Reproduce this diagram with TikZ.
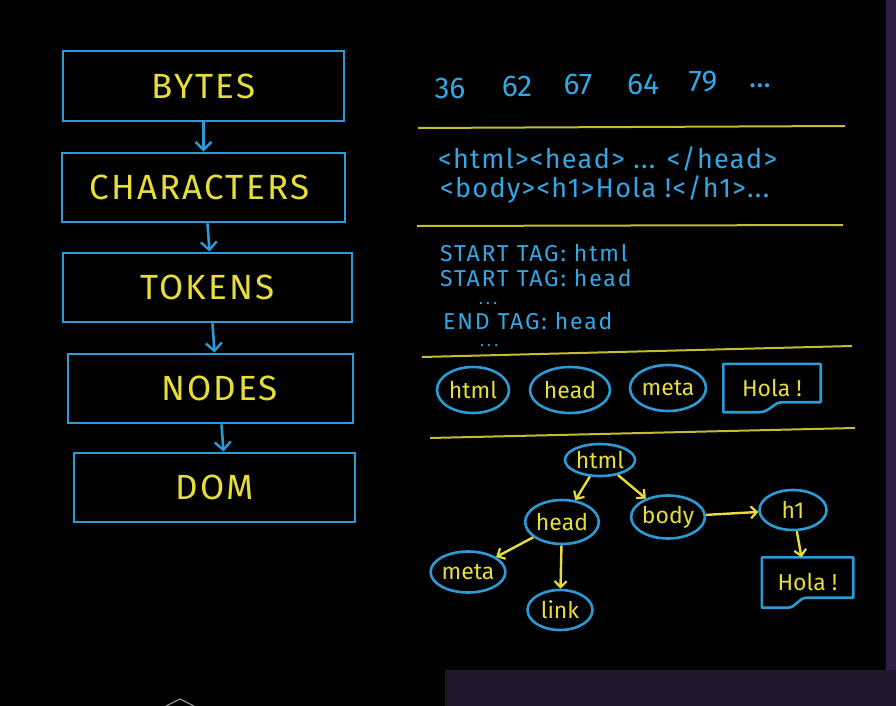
\documentclass[tikz,border=0pt]{standalone}
\usepackage{fontspec}
\setmainfont{Fira Sans}
\usetikzlibrary{shapes.geometric,arrows.meta}
\definecolor{chalkblue}{HTML}{2C9AD6}
\definecolor{textblue}{HTML}{35A6E4}
\definecolor{chalkyellow}{HTML}{E6DC3A}
\definecolor{purpright}{HTML}{2E1F46}
\definecolor{purpbottom}{HTML}{21162B}
\tikzset{
  stagebox/.style={draw=chalkblue, line width=2.8pt, rectangle, inner sep=0pt,
    text=chalkyellow, font=\fontsize{35}{38}\selectfont\addfontfeature{LetterSpace=6}},
  bluearrow/.style={draw=chalkblue, line width=2.6pt, -{Straight Barb[length=8pt,width=16pt,line width=2.4pt]}},
  yelarrow/.style={draw=chalkyellow, line width=2.4pt, -{Straight Barb[length=6pt,width=12pt,line width=2.2pt]}},
  sepline/.style={draw=chalkyellow, line width=2pt, opacity=0.85},
  numtxt/.style={text=textblue, font=\fontsize{30}{34}\selectfont, inner sep=0pt},
  codetxt/.style={text=textblue, font=\fontsize{27}{30}\selectfont\addfontfeature{LetterSpace=5}, inner sep=0pt, anchor=west},
  toktxt/.style={text=textblue, font=\fontsize{23}{26}\selectfont\addfontfeature{LetterSpace=8}, inner sep=0pt, anchor=west},
  dotstxt/.style={text=textblue, font=\fontsize{16}{18}\selectfont\addfontfeature{LetterSpace=20}, inner sep=0pt, anchor=west},
  treenode/.style={ellipse, draw=chalkblue, line width=2.6pt, inner sep=0pt,
    text=chalkyellow, font=\fontsize{23}{26}\selectfont},
  hollabox/.style={rectangle, inner sep=0pt, text=chalkyellow, font=\fontsize{23}{26}\selectfont},
}
\begin{document}
\begin{tikzpicture}[x=1pt,y=-1pt]
\useasboundingbox (0,0) rectangle (896,706);
\fill[black] (0,0) rectangle (896,706);
\fill[purpright] (886,0) rectangle (896,706);
\fill[purpbottom] (445,670) rectangle (896,706);
\coordinate (chevL) at (166,706);
\coordinate (chevT) at (180,699);
\coordinate (chevR) at (194,706);
\draw[gray!70, line width=1pt] (chevL) -- (chevT) -- (chevR);

% left pipeline
\node[stagebox, minimum width=281pt, minimum height=70pt] (bytes) at (203.5,86) {BYTES};
\node[stagebox, minimum width=283pt, minimum height=69pt] (chars) at (203.5,187.5) {\hspace*{-8pt}CHARACTERS};
\node[stagebox, minimum width=289pt, minimum height=69pt] (tokens) at (207.5,287.5) {TOKENS};
\node[stagebox, minimum width=285pt, minimum height=69pt] (nodes) at (210.5,388.5) {\hspace*{18pt}NODES};
\node[stagebox, minimum width=281pt, minimum height=69pt] (dom) at (214.5,487.5) {DOM};
\draw[bluearrow] (bytes.south) -- (chars.north);
\draw[bluearrow] ([xshift=4pt]chars.south) -- ([xshift=2pt]tokens.north);
\draw[bluearrow] ([xshift=5pt]tokens.south) -- ([xshift=4pt]nodes.north);
\draw[bluearrow] ([xshift=11pt]nodes.south) -- ([xshift=9pt]dom.north);

% bytes
\node[numtxt] (n1) at (450,88) {36};
\node[numtxt] (n2) at (517,86) {62};
\node[numtxt] (n3) at (578,84) {67};
\node[numtxt] (n4) at (643,84) {64};
\node[numtxt] (n5) at (703,82) {79};
\node[numtxt] (n6) at (760,86) {...};

\coordinate (s1a) at (418,128); \coordinate (s1b) at (845,126);
\draw[sepline] (s1a) -- (s1b);

\node[codetxt] (c1) at (438,159) {<html><head> ... </head>};
\node[codetxt] (c2) at (440,189) {<body><h1>Hola !</h1>...};

\coordinate (s2a) at (417,226); \coordinate (s2b) at (843,225);
\draw[sepline] (s2a) -- (s2b);

\node[toktxt] (t1) at (440,253) {START TAG: html};
\node[toktxt] (t2) at (440,278) {START TAG: head};
\node[dotstxt] (t3) at (479,304) {...};
\node[toktxt] (t4) at (443,321) {END TAG: head};
\node[dotstxt] (t5) at (480,346) {...};

\coordinate (s3a) at (422,357); \coordinate (s3b) at (852,346);
\draw[sepline] (s3a) -- (s3b);

% nodes row
\node[treenode, minimum width=72pt, minimum height=46pt] (r1) at (473,390) {html};
\node[treenode, minimum width=80pt, minimum height=46pt] (r2) at (570,390) {head};
\node[treenode, minimum width=76pt, minimum height=46pt] (r3) at (668,388) {meta};
\node[hollabox, minimum width=97pt, minimum height=48pt] (r4) at (772,388) {Hola !};
\draw[chalkblue, line width=2.6pt, line join=round]
  (r4.south west) -- (r4.north west) -- (r4.north east) -- ([yshift=10pt]r4.south east)
  -- ([xshift=-38pt,yshift=10pt]r4.south east)
  .. controls ([xshift=-48pt,yshift=10pt]r4.south east) and ([xshift=-50pt]r4.south east) .. ([xshift=-62pt]r4.south east)
  -- cycle;

\coordinate (s4a) at (430,438); \coordinate (s4b) at (855,428);
\draw[sepline] (s4a) -- (s4b);

% tree
\node[treenode, minimum width=70pt, minimum height=32pt] (html) at (600,460) {html};
\node[treenode, minimum width=72pt, minimum height=44pt] (head) at (562,522) {head};
\node[treenode, minimum width=70pt, minimum height=43pt] (body) at (668,517) {body};
\node[treenode, minimum width=67pt, minimum height=40pt] (h1) at (793,510) {h1};
\node[treenode, minimum width=67pt, minimum height=41pt] (meta) at (468,572) {meta};
\node[treenode, minimum width=65pt, minimum height=40pt] (link) at (560,610) {link};
\node[hollabox, minimum width=91pt, minimum height=50pt] (hola) at (807.5,582.5) {Hola !};
\draw[chalkblue, line width=2.6pt, line join=round]
  (hola.south west) -- (hola.north west) -- (hola.north east) -- ([yshift=10pt]hola.south east)
  -- ([xshift=-46pt,yshift=10pt]hola.south east)
  .. controls ([xshift=-56pt,yshift=10pt]hola.south east) and ([xshift=-56pt]hola.south east) .. ([xshift=-66pt]hola.south east)
  -- cycle;

\draw[yelarrow] (html) -- (head);
\draw[yelarrow] (html) -- (body);
\draw[yelarrow] (body) -- (h1);
\draw[yelarrow] (h1) -- ([xshift=-6pt]hola.north);
\draw[yelarrow] (head) -- (meta);
\draw[yelarrow] (head) -- (link);
\end{tikzpicture}
\end{document}
